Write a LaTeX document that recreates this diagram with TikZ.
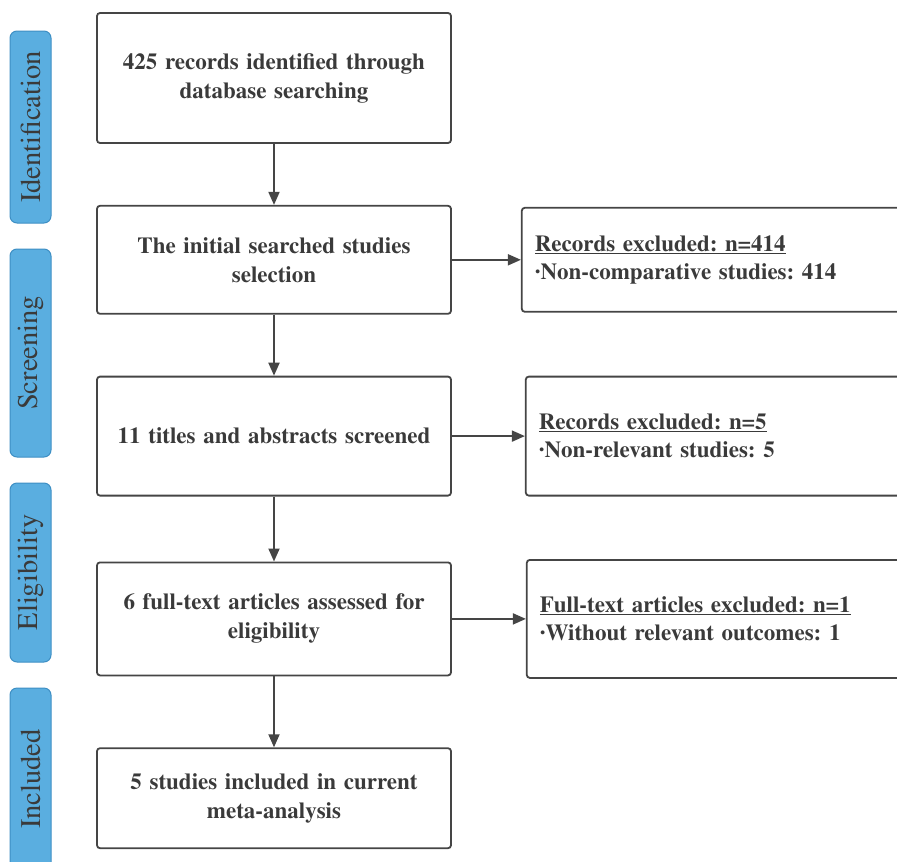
\documentclass[tikz,border=0pt]{standalone}
\usepackage[T1]{fontenc}
\usepackage{textcomp}
\usepackage{times}
\usepackage{xcolor}
\usepackage{tikz}
\usetikzlibrary{arrows.meta, positioning}
\definecolor{LineGray}{HTML}{454545}
\definecolor{TextGray}{HTML}{3A3A3A}
\definecolor{PhaseBlue}{HTML}{5AAEE0}
\definecolor{PhaseEdge}{HTML}{3E8FC4}
\frenchspacing

\begin{document}
\begin{tikzpicture}[
    x=1pt, y=1pt,
    stage/.style={rectangle, rounded corners=3pt, minimum width=354pt, text width=330pt,
                  align=center, draw=LineGray, line width=1.8pt, text=TextGray,
                  font=\fontsize{23}{29}\selectfont\bfseries},
    excluded/.style={rectangle, rounded corners=3pt, minimum width=385pt, text width=359pt,
                     inner sep=13pt, align=left, draw=LineGray, line width=1.8pt, text=TextGray,
                     font=\fontsize{23}{28}\selectfont\bfseries},
    phase/.style={rectangle, rounded corners=7pt, rotate=90, minimum height=41pt,
                  fill=PhaseBlue, draw=PhaseEdge, line width=1pt, text=TextGray,
                  font=\fontsize{28.5}{30}\selectfont},
    arrow/.style={-{Triangle[length=13pt, width=11pt]}, line width=1.8pt, color=LineGray}
]
\clip (0,0) rectangle (897,-862);

% phases on the left
\node[phase, minimum width=192pt] (idn) at (30.5,-127) {Identification};
\node[phase, minimum width=208pt] (scr) at (30.5,-353) {Screening};
\node[phase, minimum width=179pt] (elg) at (30.5,-572.5) {Eligibility};
\node[phase, minimum width=182pt] (inc) at (30.5,-779) {Included};

% main flow
\node[stage, minimum height=130pt] (b1) at (274,-78) {425 records identified through\\database searching};
\node[stage, minimum height=108pt, below=61pt of b1] (b2) {The initial searched studies\\selection};
\node[stage, minimum height=119pt, below=61pt of b2] (b3) {11 titles and abstracts screened};
\node[stage, minimum height=113pt, below=65pt of b3] (b4) {6 full-text articles assessed for\\eligibility};
\node[stage, minimum height=100pt, below=71pt of b4] (b5) {5 studies included in current\\meta-analysis};

% exclusions
\node[excluded, minimum height=104pt, right=69pt of b2] (r1) {\underline{Records excluded: n=414}\\\textperiodcentered Non-comparative studies: 414};
\node[excluded, minimum height=119pt, right=73pt of b3] (r2) {\underline{Records excluded: n=5}\\\textperiodcentered Non-relevant studies: 5};
\node[excluded, minimum height=118pt, right=74pt of b4] (r3) {\underline{Full-text articles excluded: n=1}\\\textperiodcentered Without relevant outcomes: 1};

\draw[arrow] (b1) -- (b2);
\draw[arrow] (b2) -- (b3);
\draw[arrow] (b3) -- (b4);
\draw[arrow] (b4) -- (b5);
\draw[arrow] (b2) -- (r1);
\draw[arrow] (b3) -- (r2);
\draw[arrow] (b4) -- (r3);

\end{tikzpicture}
\end{document}
